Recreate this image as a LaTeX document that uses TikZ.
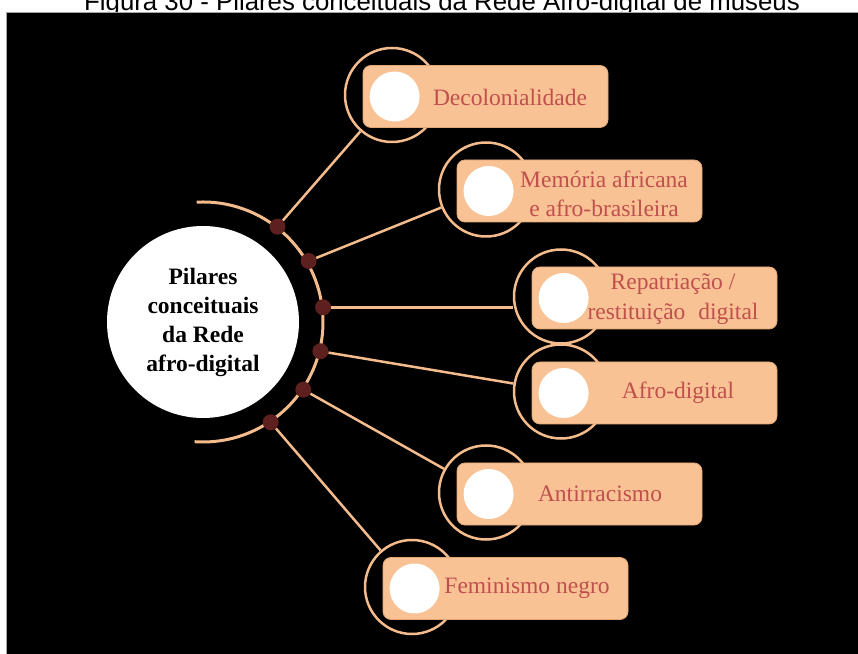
\documentclass[tikz,border=0pt]{standalone}
\usepackage{fontspec}
\setmainfont{Liberation Serif}
\newfontfamily\titlefont{Liberation Sans}
\definecolor{peach}{HTML}{F9C294}
\definecolor{peachline}{HTML}{F4BC8C}
\definecolor{peachedge}{HTML}{E2A876}
\definecolor{pilltext}{HTML}{C0504D}
\definecolor{dotcol}{HTML}{5E1F1F}
\begin{document}
\begin{tikzpicture}[x=1pt,y=1pt,
  hubnode/.style={circle, fill=white, minimum size=192pt, inner sep=0pt, align=center,
    font=\bfseries\fontsize{23.5}{29}\selectfont},
  arcline/.style={draw=peachline, line width=3pt},
  conn/.style={draw=peachline, line width=2.5pt},
  dotnode/.style={circle, fill=dotcol, minimum size=16pt, inner sep=0pt},
  ringnode/.style={circle, draw=peachline, line width=2.5pt, minimum size=94pt, inner sep=0pt},
  pill/.style={rounded corners=8pt, fill=peach, draw=peachedge, line width=0.8pt,
    minimum width=245pt, minimum height=62pt, inner sep=0pt},
  knob/.style={circle, fill=white, minimum size=50pt, inner sep=0pt},
  pilltxt/.style={text=pilltext, align=center, font=\fontsize{23.5}{29.5}\selectfont, inner sep=0pt}
]
\useasboundingbox (0,0) rectangle (858,653);
\fill[white] (0,0) rectangle (858,653);
\node[font=\titlefont\fontsize{25.8}{30}\selectfont, anchor=base, inner sep=0pt] (title) at (442,642)
  {Figura 30 - Pilares conceituais da Rede Afro-digital de museus};
\filldraw[fill=black, draw=gray!70, line width=0.8pt] (6.5,-2) rectangle (860,641);

% hub
\node[hubnode] (hub) at (203,331) {Pilares\\conceituais\\da Rede\\afro-digital};
\draw[arcline] (hub.center) ++(93:120) arc[start angle=93, end angle=-94, radius=120];

% rings (behind the pills)
\node[ringnode] (r1) at (392,558) {};
\node[ringnode] (r2) at (486,463.5) {};
\node[ringnode] (r3) at (561,356.5) {};
\node[ringnode] (r4) at (561,261.5) {};
\node[ringnode] (r5) at (486,160.5) {};
\node[ringnode] (r6) at (412,66) {};

% pills
\node[pill] (p1) at (485.5,556.5) {};
\node[pill] (p2) at (579.5,462) {};
\node[pill] (p3) at (654.5,355) {};
\node[pill] (p4) at (654.5,260) {};
\node[pill] (p5) at (579.5,159) {};
\node[pill] (p6) at (505.5,64.5) {};

\node[knob] (k1) at ([xshift=32pt]p1.west) {};
\node[knob] (k2) at ([xshift=32pt]p2.west) {};
\node[knob] (k3) at ([xshift=32pt]p3.west) {};
\node[knob] (k4) at ([xshift=32pt]p4.west) {};
\node[knob] (k5) at ([xshift=32pt]p5.west) {};
\node[knob] (k6) at ([xshift=32pt]p6.west) {};

\node[pilltxt] (t1) at (510,556) {Decolonialidade};
\node[pilltxt] (t2) at (604,459) {Memória africana\\e afro-brasileira};
\node[pilltxt] (t3) at (673,354) {Repatriação /\\restituição\hspace{0.3em} digital};
\node[pilltxt] (t4) at (678,260) {Afro-digital};
\node[pilltxt] (t5) at (600,159) {Antirracismo};
\node[pilltxt] (t6) at (527,65) {Feminismo negro};

% dots on the arc
\node[dotnode] (d1) at ([shift={(52:121)}]hub.center) {};
\node[dotnode] (d2) at ([shift={(30:122)}]hub.center) {};
\node[dotnode] (d3) at ([shift={(7:121)}]hub.center) {};
\node[dotnode] (d4) at ([shift={(-14:121)}]hub.center) {};
\node[dotnode] (d5) at ([shift={(-34:121)}]hub.center) {};
\node[dotnode] (d6) at ([shift={(-56:121)}]hub.center) {};

% connectors
\draw[conn] (d1) -- (r1);
\draw[conn] (d2) -- (r2);
\draw[conn] (d3) -- (d3 -| r3.west);
\draw[conn] (d4) -- (r4);
\draw[conn] (d5) -- (r5);
\draw[conn] (d6) -- (r6);
\end{tikzpicture}
\end{document}
